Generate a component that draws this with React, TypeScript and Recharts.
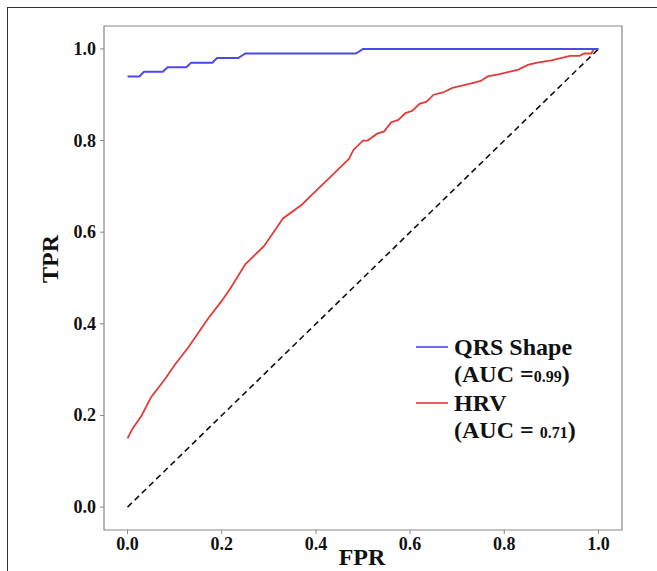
import { LineChart, Line, XAxis, YAxis, ReferenceArea } from 'recharts';

// ROC curves
const qrsFpr = [0, 0.025, 0.035, 0.075, 0.085, 0.125, 0.135, 0.18, 0.19, 0.235, 0.25, 0.485, 0.5, 1.0];
const qrsTpr = [0.94, 0.94, 0.95, 0.95, 0.96, 0.96, 0.97, 0.97, 0.98, 0.98, 0.99, 0.99, 1.0, 1.0];

const hrvFpr = [
  0, 0.01, 0.03, 0.05, 0.08, 0.1, 0.13, 0.15, 0.17, 0.2, 0.22, 0.25, 0.27, 0.29, 0.31, 0.33,
  0.37, 0.4, 0.42, 0.45, 0.47, 0.48, 0.5, 0.51, 0.53, 0.545, 0.56, 0.575, 0.59, 0.605, 0.62,
  0.635, 0.65, 0.67, 0.69, 0.71, 0.73, 0.75, 0.765, 0.79, 0.81, 0.83, 0.85, 0.87, 0.9, 0.92,
  0.94, 0.96, 0.97, 0.985, 0.99, 1.0,
];
const hrvTpr = [
  0.15, 0.17, 0.2, 0.24, 0.28, 0.31, 0.35, 0.38, 0.41, 0.45, 0.48, 0.53, 0.55, 0.57, 0.6, 0.63,
  0.66, 0.69, 0.71, 0.74, 0.76, 0.78, 0.8, 0.8, 0.815, 0.82, 0.84, 0.845, 0.86, 0.865, 0.88,
  0.885, 0.9, 0.905, 0.915, 0.92, 0.925, 0.93, 0.94, 0.945, 0.95, 0.955, 0.965, 0.97, 0.975,
  0.98, 0.985, 0.985, 0.99, 0.99, 1.0, 1.0,
];

const chanceFpr = [0, 1];
const chanceTpr = [0, 1];

const ticks = [0, 0.2, 0.4, 0.6, 0.8, 1.0];

const zip = (xs: number[], ys: number[]) => xs.map((x, i) => ({ x, y: ys[i] }));

const serif = '"Liberation Serif", "Times New Roman", "DejaVu Serif", serif';
const QRS_COLOR = '#4a4ae6';
const HRV_COLOR = '#e53a3a';

function XTick(props: any) {
  const { x, y, payload } = props;
  return (
    <text x={x} y={y + 14} textAnchor="middle" style={{ fontFamily: serif, fontWeight: 700, fontSize: 18, fill: '#111' }}>
      {Number(payload.value).toFixed(1)}
    </text>
  );
}

function YTick(props: any) {
  const { x, y, payload } = props;
  return (
    <text x={x - 2} y={y + 6} textAnchor="end" style={{ fontFamily: serif, fontWeight: 700, fontSize: 18, fill: '#111' }}>
      {Number(payload.value).toFixed(1)}
    </text>
  );
}

function LegendBox() {
  const row = (color: string | null, text: React.ReactNode) => (
    <div style={{ display: 'flex', alignItems: 'center', height: 28 }}>
      <svg width={38} height={28} style={{ display: 'block' }}>
        {color && <line x1={0} x2={32} y1={14} y2={14} stroke={color} strokeWidth={1.6} />}
      </svg>
      <div>{text}</div>
    </div>
  );
  return (
    <div
      style={{
        position: 'absolute',
        left: 416,
        top: 333,
        fontFamily: serif,
        fontWeight: 700,
        fontSize: 24,
        color: '#111',
        lineHeight: '28px',
      }}
    >
      {row(QRS_COLOR, 'QRS Shape')}
      {row(null, <>(AUC =<span style={{ fontSize: 16 }}>0.99</span>)</>)}
      {row(HRV_COLOR, 'HRV')}
      {row(null, <>(AUC = <span style={{ fontSize: 16 }}>0.71</span>)</>)}
    </div>
  );
}

export default function App() {
  return (
    <div style={{ position: 'absolute', left: 0, top: 0, width: 657, height: 571, overflow: 'hidden', background: '#fff' }}>
      <div
        style={{
          position: 'absolute',
          left: 7,
          top: 7,
          width: 700,
          height: 700,
          borderTop: '1px solid #333',
          borderLeft: '1px solid #333',
        }}
      />
      <LineChart
        width={657}
        height={571}
        margin={{ top: 26, right: 35, left: 44, bottom: 11 }}
        style={{ position: 'absolute', left: 0, top: 0 }}
      >
        <XAxis
          dataKey="x"
          type="number"
          domain={[-0.05, 1.05]}
          ticks={ticks}
          allowDataOverflow
          height={30}
          axisLine={false}
          tickLine={{ stroke: '#888' }}
          tickSize={4}
          tick={<XTick />}
        />
        <YAxis
          dataKey="y"
          type="number"
          domain={[-0.05, 1.05]}
          ticks={ticks}
          allowDataOverflow
          width={60}
          axisLine={false}
          tickLine={{ stroke: '#888' }}
          tickSize={4}
          tick={<YTick />}
        />
        <ReferenceArea x1={-0.05} x2={1.05} y1={-0.05} y2={1.05} fill="none" stroke="#888" strokeWidth={1.2} ifOverflow="visible" />
        <Line
          data={zip(chanceFpr, chanceTpr)}
          dataKey="y"
          stroke="#111"
          strokeWidth={1.6}
          strokeDasharray="6 4"
          dot={false}
          isAnimationActive={false}
        />
        <Line
          data={zip(hrvFpr, hrvTpr)}
          dataKey="y"
          stroke={HRV_COLOR}
          strokeWidth={1.8}
          dot={false}
          isAnimationActive={false}
        />
        <Line
          data={zip(qrsFpr, qrsTpr)}
          dataKey="y"
          stroke={QRS_COLOR}
          strokeWidth={2}
          dot={false}
          isAnimationActive={false}
        />
      </LineChart>
      <div
        style={{
          position: 'absolute',
          left: 50,
          top: 259,
          transform: 'translate(-50%, -50%) rotate(-90deg)',
          fontFamily: serif,
          fontWeight: 700,
          fontSize: 24,
          color: '#111',
          whiteSpace: 'nowrap',
        }}
      >
        TPR
      </div>
      <div
        style={{
          position: 'absolute',
          left: 362,
          top: 545,
          transform: 'translateX(-50%)',
          fontFamily: serif,
          fontWeight: 700,
          fontSize: 24,
          color: '#111',
          lineHeight: '24px',
        }}
      >
        FPR
      </div>
      <LegendBox />
    </div>
  );
}
